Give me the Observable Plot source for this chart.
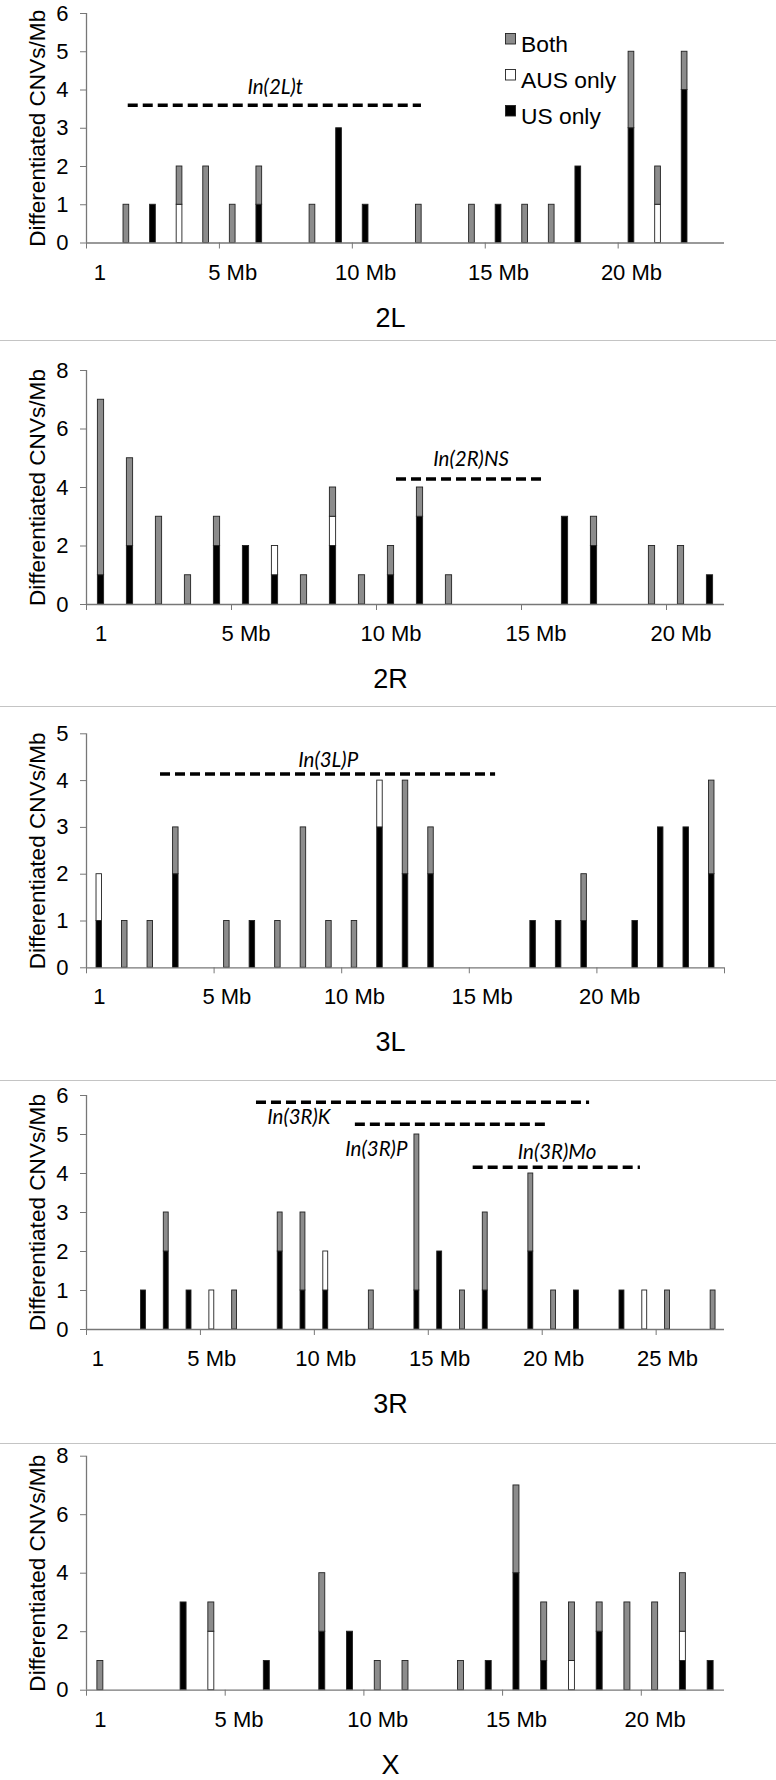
<!DOCTYPE html>
<html><head><meta charset="utf-8">
<script src="https://cdn.jsdelivr.net/npm/d3@7"></script>
<script src="https://cdn.jsdelivr.net/npm/@observablehq/plot@0.6"></script>
<style>
body{margin:0;background:#fff;}
#wrap{position:relative;width:776px;height:1780px;overflow:hidden;font-family:"Liberation Sans",Arial,sans-serif;background:#fff;}
.panel{position:absolute;left:0;}
.sep{position:absolute;left:0;width:776px;height:0;border-top:1.5px solid #c4c4c4;}
</style></head><body><div id="wrap"></div>
<script>
// ---- data ----
const seriesNames = ["US only", "AUS only", "Both"];
const seriesColors = ["#000000", "#ffffff", "#8c8c8c"];
const yTitle = "Differentiated CNVs/Mb";
const xTickLabels = ["1", "5 Mb", "10 Mb", "15 Mb", "20 Mb", "25 Mb"];
const xTickCats = [1, 6, 11, 16, 21, 26];

const chromNames = ["2L", "2R", "3L", "3R", "X"];
const binCounts = [24, 22, 25, 28, 23];
const yMaxes = [6, 8, 5, 6, 8];
const yTickSteps = [1, 2, 1, 1, 2];

const cats2L = [2,3,4,5,6,7,9,10,11,13,15,16,17,18,19,21,22,23];
const us2L   = [0,1,0,0,0,1,0,3,1,0,0,1,0,0,2,3,0,4];
const aus2L  = [0,0,1,0,0,0,0,0,0,0,0,0,0,0,0,0,1,0];
const both2L = [1,0,1,2,1,1,1,0,0,1,1,0,1,1,0,2,1,1];

const cats2R = [1,2,3,4,5,6,7,8,9,10,11,12,13,17,18,20,21,22];
const us2R   = [1,2,0,0,2,2,1,0,2,0,1,3,0,3,2,0,0,1];
const aus2R  = [0,0,0,0,0,0,1,0,1,0,0,0,0,0,0,0,0,0];
const both2R = [6,3,3,1,1,0,0,1,1,1,1,1,1,0,1,2,2,0];

const cats3L = [1,2,3,4,6,7,8,9,10,11,12,13,14,18,19,20,22,23,24,25];
const us3L   = [1,0,0,2,0,1,0,0,0,0,3,2,2,1,1,1,1,3,3,2];
const aus3L  = [1,0,0,0,0,0,0,0,0,0,1,0,0,0,0,0,0,0,0,0];
const both3L = [0,1,1,1,1,0,1,3,1,1,0,2,1,0,0,1,0,0,0,2];

const cats3R = [3,4,5,6,7,9,10,11,13,15,16,17,18,20,21,22,24,25,26,28];
const us3R   = [1,2,1,0,0,2,1,1,0,1,2,0,1,2,0,1,1,0,0,0];
const aus3R  = [0,0,0,1,0,0,0,1,0,0,0,0,0,0,0,0,0,1,0,0];
const both3R = [0,1,0,0,1,1,2,0,1,4,0,1,2,2,1,0,0,0,1,1];

const catsX = [1,4,5,7,9,10,11,12,14,15,16,17,18,19,20,21,22,23];
const usX   = [0,3,0,1,2,2,0,0,0,1,4,1,0,2,0,0,1,1];
const ausX  = [0,0,2,0,0,0,0,0,0,0,0,0,1,0,0,0,1,0];
const bothX = [1,0,1,0,2,0,1,1,1,0,3,2,2,1,3,3,2,0];

// inversions: span (in Mb bins), level (CNVs/Mb), label anchor
const inv2L = [{name: "In(2L)t", start: 1.57, end: 12.6, level: 3.6, lx: 7.1, ly: 4.06}];
const inv2R = [{name: "In(2R)NS", start: 10.69, end: 15.83, level: 4.29, lx: 13.26, ly: 4.97}];
const inv3L = [{name: "In(3L)P", start: 2.9, end: 16.03, level: 4.14, lx: 9.47, ly: 4.44}];
const inv3R = [
  {name: "In(3R)K", start: 7.46, end: 22.08, level: 5.83, lx: 9.32, ly: 5.44},
  {name: "In(3R)P", start: 11.8, end: 20.21, level: 5.26, lx: 12.72, ly: 4.61},
  {name: "In(3R)Mo", start: 16.97, end: 24.31, level: 4.16, lx: 20.65, ly: 4.54}
];
const invX = [];

const chromData = [
  [cats2L, us2L, aus2L, both2L, inv2L],
  [cats2R, us2R, aus2R, both2R, inv2R],
  [cats3L, us3L, aus3L, both3L, inv3L],
  [cats3R, us3R, aus3R, both3R, inv3R],
  [catsX, usX, ausX, bothX, invX]
];

// ---- layout ----
const W = 776, ML = 86, MR = 52, PH = 234;
const panelLayout = [
  {top: 0, height: 338, mt: 13, ph: 229.5},
  {top: 342, height: 362, mt: 28, ph: PH},
  {top: 708, height: 370, mt: 25.3, ph: PH},
  {top: 1082, height: 359, mt: 13, ph: PH},
  {top: 1445, height: 335, mt: 10.7, ph: PH}
];
const sepYs = [340, 706, 1080, 1443];
const font = "'Liberation Sans', Arial, Helvetica, sans-serif";

const wrap = document.getElementById("wrap");

chromNames.forEach((name, k) => {
  const [cats, us, aus, both, inv] = chromData[k];
  const n = binCounts[k], ymax = yMaxes[k];
  const rows = [];
  cats.forEach((c, i) => {
    [us[i], aus[i], both[i]].forEach((v, j) => { if (v > 0) rows.push({cat: c, type: seriesNames[j], v}); });
  });
  const cw = (W - ML - MR) / n;
  const inset = cw * (1 - 0.215) / 2;
  const yticks = d3.range(0, ymax + 0.001, yTickSteps[k]);
  const bounds = d3.range(0, n + 0.001, 5);
  const labelPos = [], labelMap = new Map();
  xTickCats.forEach((c, i) => { if (c <= n) { labelPos.push(c - 0.5); labelMap.set(c - 0.5, xTickLabels[i]); } });
  const L = panelLayout[k];
  const plot = Plot.plot({
    width: W, height: L.height,
    marginLeft: ML, marginRight: MR, marginTop: L.mt, marginBottom: L.height - L.mt - L.ph,
    x: {domain: [0, n]},
    y: {domain: [0, ymax]},
    color: {domain: seriesNames, range: seriesColors},
    style: {fontFamily: font, fontSize: "22px", color: "#000", background: "transparent", overflow: "visible"},
    marks: [
      Plot.rectY(rows, {x1: d => d.cat - 1, x2: "cat", y: "v", fill: "type", stroke: "#222", strokeWidth: 0.9, insetLeft: inset, insetRight: inset}),
      Plot.ruleY([0], {stroke: "#777", strokeWidth: 1.3}),
      Plot.ruleX([0], {stroke: "#777", strokeWidth: 1.3}),
      Plot.axisY({ticks: yticks, tickSize: 6, tickPadding: 12, stroke: "#777", label: null, tickFormat: d => String(d)}),
      Plot.axisX({ticks: bounds, tickSize: 6, stroke: "#777", label: null, tickFormat: () => ""}),
      Plot.axisX({ticks: labelPos, tickSize: 0, tickPadding: 21, label: null, tickFormat: d => labelMap.get(d)}),
      Plot.text([yTitle], {frameAnchor: "left", rotate: -90, dx: -49, fontSize: 22.6, textAnchor: "middle", lineAnchor: "middle"}),
      Plot.text([name], {frameAnchor: "bottom", dy: 75, dx: -15, fontSize: 27, textAnchor: "middle", lineAnchor: "middle"}),
      Plot.ruleY(inv, {x1: "start", x2: "end", y: "level", stroke: "#000", strokeWidth: 3.5, strokeDasharray: "10,5"}),
      Plot.text(inv, {x: "lx", y: "ly", text: "name", fontStyle: "italic", fontFamily: "Lato, 'Open Sans', sans-serif", fontSize: 20.5, textAnchor: "middle", lineAnchor: "middle"})
    ]
  });
  const div = document.createElement("div");
  div.className = "panel";
  div.style.top = L.top + "px";
  div.appendChild(plot);
  wrap.appendChild(div);
});

sepYs.forEach(y => {
  const s = document.createElement("div");
  s.className = "sep";
  s.style.top = y + "px";
  wrap.appendChild(s);
});

// legend (top-right of 2L panel), drawn in stacking order top to bottom
const legendOrder = ["Both", "AUS only", "US only"];
const leg = d3.select(wrap).append("svg")
  .attr("width", 260).attr("height", 140)
  .style("position", "absolute").style("left", "500px").style("top", "20px")
  .style("font-family", font).style("font-size", "22.8px");
legendOrder.forEach((s, i) => {
  const base = 32 + i * 36;
  leg.append("rect").attr("x", 5.5).attr("y", base - 18.5).attr("width", 10).attr("height", 10.5)
    .attr("fill", seriesColors[seriesNames.indexOf(s)]).attr("stroke", "#222").attr("stroke-width", 0.9);
  leg.append("text").attr("x", 21).attr("y", base).text(s);
});
</script>
</body></html>
